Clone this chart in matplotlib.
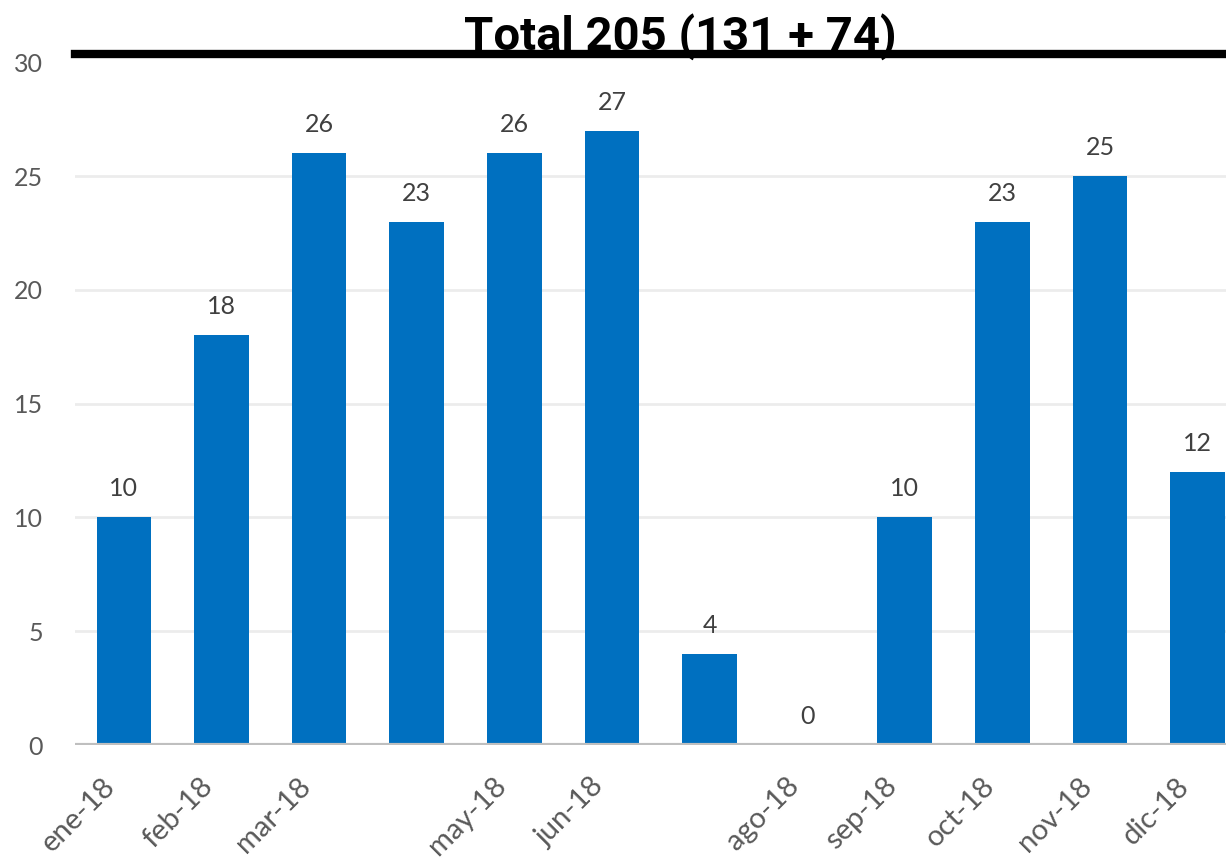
import matplotlib.pyplot as plt

# data
months = ['ene-18', 'feb-18', 'mar-18', 'abr-18', 'may-18', 'jun-18',
          'jul-18', 'ago-18', 'sep-18', 'oct-18', 'nov-18', 'dic-18']
tick_labels = ['ene-18', 'feb-18', 'mar-18', '', 'may-18', 'jun-18',
               '', 'ago-18', 'sep-18', 'oct-18', 'nov-18', 'dic-18']
counts = [10, 18, 26, 23, 26, 27, 4, 0, 10, 23, 25, 12]
title = 'Total 205 (131 + 74)'

plt.rcParams['font.family'] = ['Lato', 'DejaVu Sans']

fig = plt.figure(figsize=(12.26, 8.59), dpi=100)
ax = fig.add_axes([0.0612, 0.1327, 0.9388, 0.8044])

x = list(range(len(months)))
ax.bar(x, counts, width=0.56, color='#0070C0', zorder=3)

for xi, v in zip(x, counts):
    ax.text(xi, v + 0.75, str(v), ha='center', va='bottom',
            fontsize=18, color='#404040')

top = 30.37
ax.set_xlim(-0.5, 11.29)
ax.set_ylim(0, top)
ax.set_yticks(range(0, 31, 5))
ax.yaxis.grid(True, color='#ececec', linewidth=2, zorder=0)
ax.get_ygridlines()[-1].set_visible(False)
ax.axhline(top, color='black', linewidth=6, zorder=4, clip_on=False)
ax.axhline(0, color='#bfbfbf', linewidth=3, zorder=4)

# labels sit a little left of the bar centres, as in the original
ax.set_xticks([xi - 0.22 for xi in x])
ax.set_xticklabels(tick_labels, rotation=45, ha='right',
                   rotation_mode='anchor', fontsize=21, color='#595959')
ax.tick_params(axis='y', labelsize=18, labelcolor='#595959', length=0, pad=23)
ax.tick_params(axis='x', length=0, pad=20)

for s in ax.spines.values():
    s.set_visible(False)

fig.text(0.555, 0.942, title, ha='center', va='baseline', fontsize=34,
         fontweight='bold', family=['Roboto', 'DejaVu Sans'], zorder=5)

plt.savefig('out.png', dpi=100)
